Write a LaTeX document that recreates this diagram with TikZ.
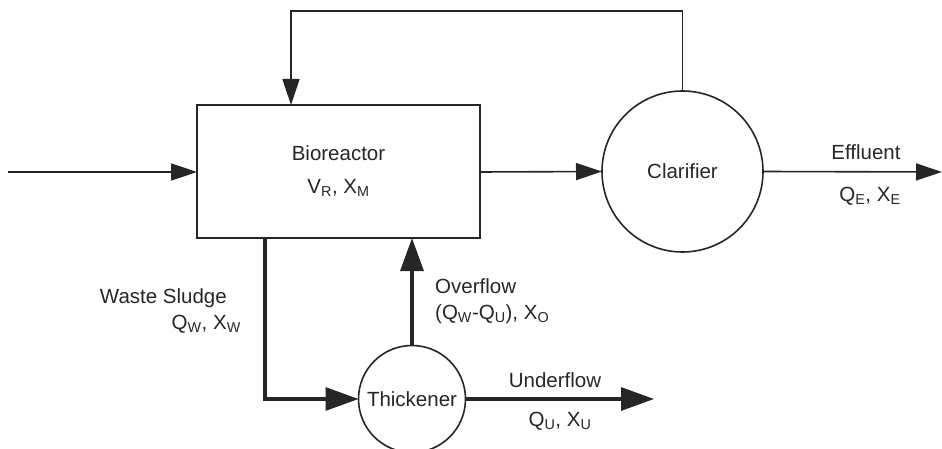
\documentclass[tikz,border=0pt]{standalone}
\usepackage{fontspec}
\setmainfont{Liberation Sans}
\usetikzlibrary{arrows.meta}

\begin{document}
\begin{tikzpicture}[
    x=1pt, y=-1pt,
    unitstyle/.style={
       draw=black!85, fill=none,
       line width=1.6pt, inner sep=0pt,
       outer sep=0pt, text=black!85,
       font=\fontsize{20.5}{24}\selectfont
        },
    tankstyle/.style={unitstyle, circle},
    textstyle/.style={
       inner sep=0pt, text=black!85,
       font=\fontsize{20.5}{24}\selectfont
        },
    thinflow/.style={
       draw=black!85, line width=1.6pt,
       -{Triangle[length=26pt,width=17pt]}
        },
    thickflow/.style={
       draw=black!85, line width=3.2pt,
       -{Triangle[length=33pt,width=23pt]}
        }]

\useasboundingbox (0,0) rectangle (942,449);

% units
\node [unitstyle, minimum width=283pt, minimum height=133pt, align=center]
   (bio) at (338.5,171.5) {Bioreactor\\[9pt]V\textsubscript{R}, X\textsubscript{M}};
\node [tankstyle, minimum size=161pt] (clar) at (682.5,171.5) {Clarifier};
\node [tankstyle, minimum size=107pt] (thick) at (412,399) {Thickener};

% free ends
\coordinate (feed) at (8,172);
\coordinate (rtop) at (291,11);
\coordinate (eff) at (942,172);
\coordinate (wout) at (265,238);
\coordinate (uend) at (654,399);

% streams
\draw [thinflow] (feed) -- (bio.west |- feed);
\draw [thinflow] (bio.east |- feed) -- (clar.west);
\draw [thinflow] (clar.east) -- (eff);
\draw [thinflow] (clar.north) |- (rtop) -- (rtop |- bio.north);
\draw [thickflow] (wout) |- (thick.west);
\draw [thickflow] (thick.north) -- (thick.north |- bio.south);
\draw [thickflow] (thick.east) -- (uend);

% labels
\node [textstyle] (efflbl) at (866,152) {Effluent};
\node [textstyle] (effqx) at (870,196) {Q\textsubscript{E}, X\textsubscript{E}};
\node [textstyle, anchor=east] (wastelbl) at (227,298) {Waste Sludge};
\node [textstyle, anchor=east] (wasteqx) at (241,324) {Q\textsubscript{W}, X\textsubscript{W}};
\node [textstyle, anchor=west] (overlbl) at (435,286) {Overflow};
\node [textstyle, anchor=west] (overqx) at (435,314)
   {(Q\textsubscript{W}-Q\textsubscript{U}), X\textsubscript{O}};
\node [textstyle] (underlbl) at (555,380) {Underflow};
\node [textstyle] (underqx) at (560,421) {Q\textsubscript{U}, X\textsubscript{U}};
\end{tikzpicture}
\end{document}
